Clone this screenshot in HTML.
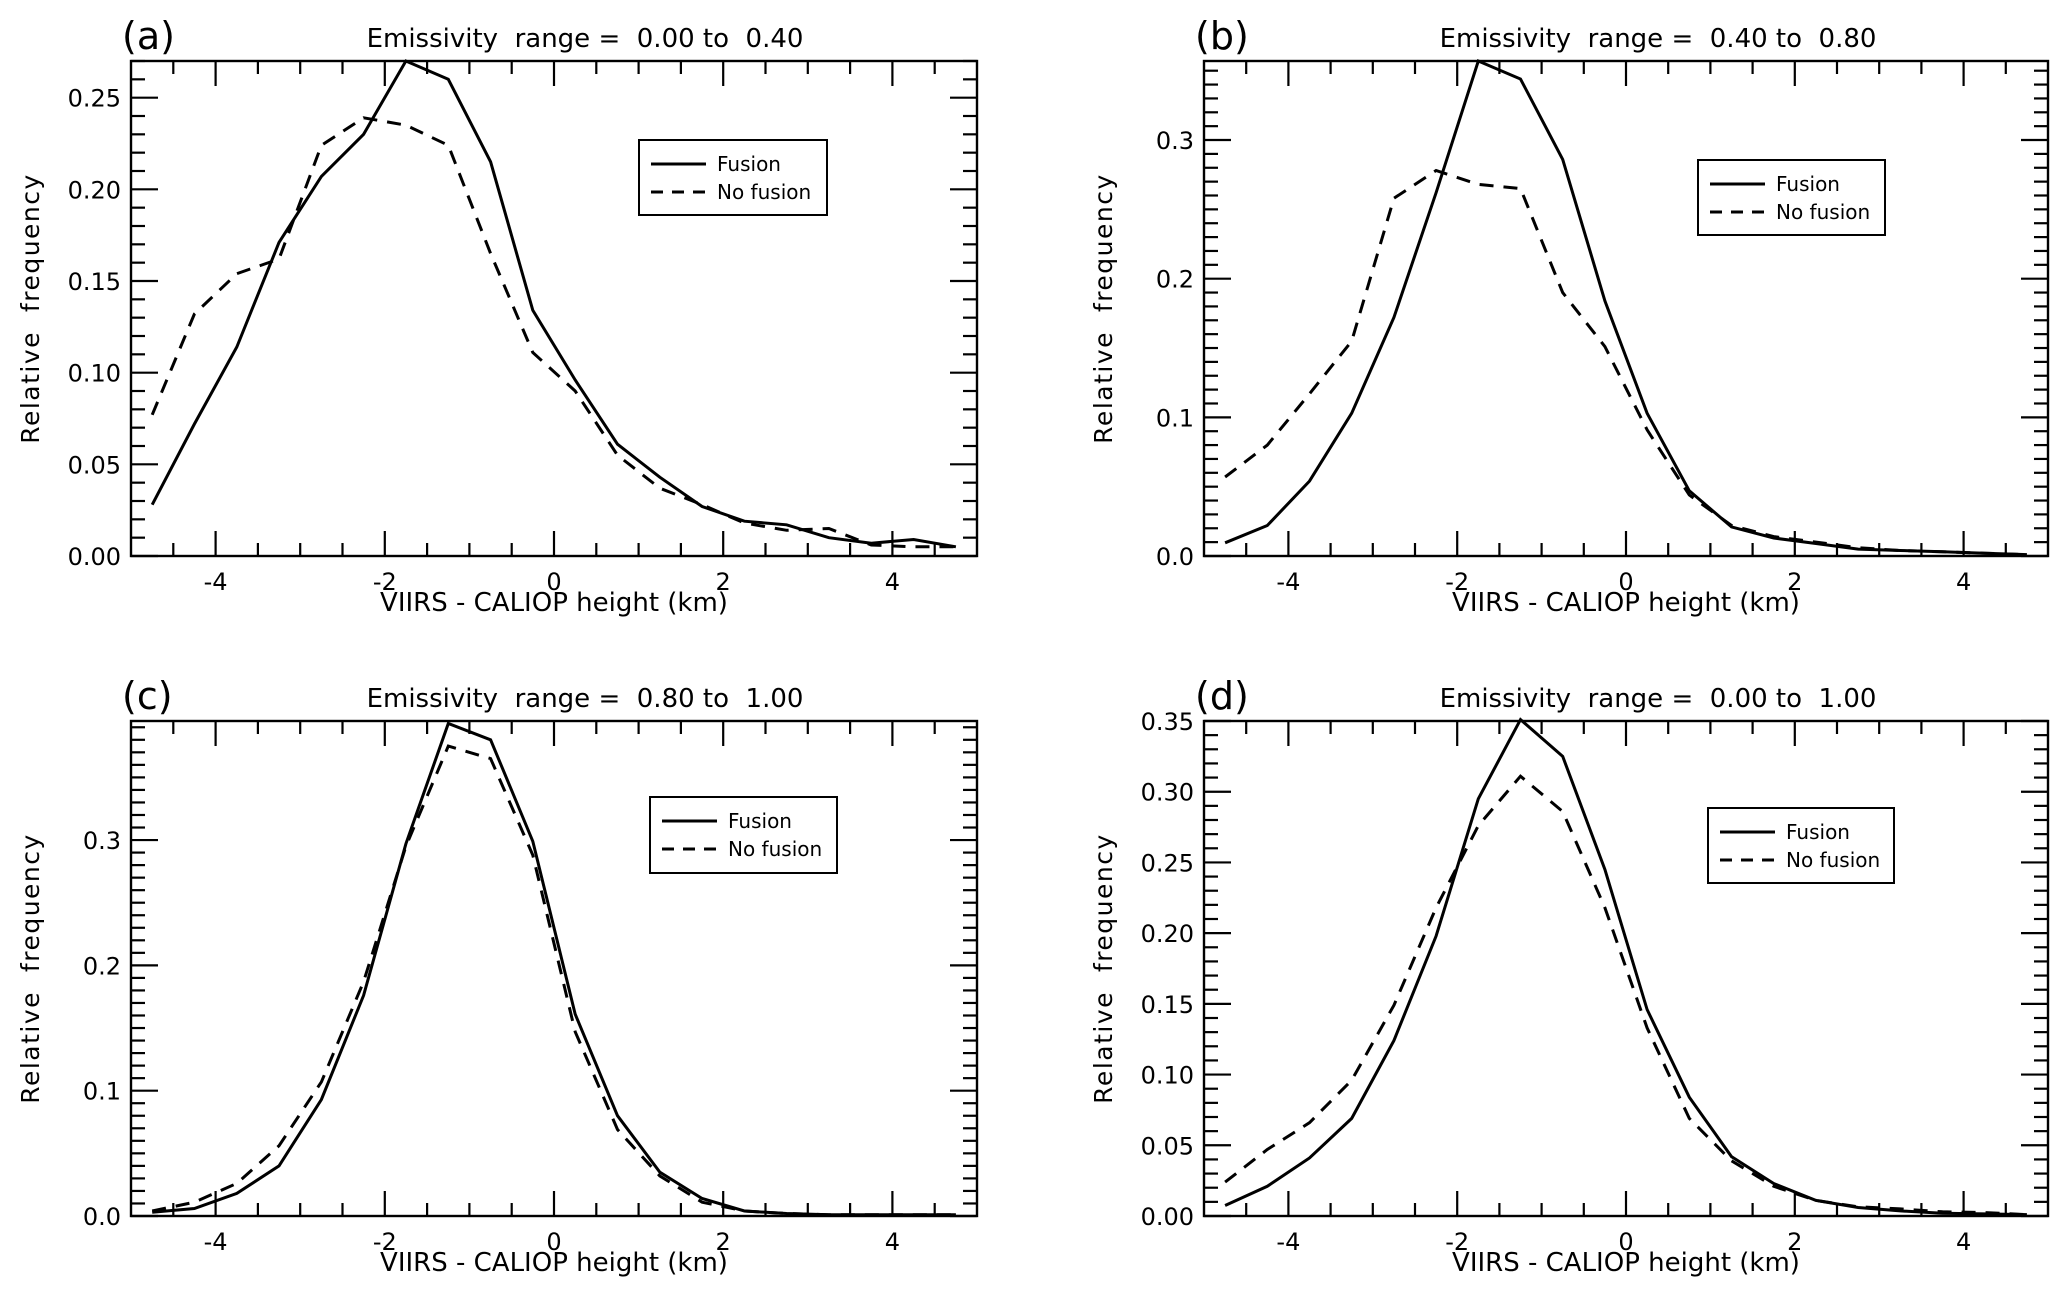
<!DOCTYPE html>
<html><head><meta charset="utf-8">
<style>
html,body{margin:0;padding:0;background:#fff;}
svg{display:block;}
text{font-family:"DejaVu Sans","Liberation Sans",sans-serif;fill:#000;white-space:pre;}
</style></head>
<body>
<svg id="fig" width="2067" height="1295" viewBox="0 0 2067 1295" xmlns="http://www.w3.org/2000/svg"></svg>
<script>
const xCenters = [-4.75,-4.25,-3.75,-3.25,-2.75,-2.25,-1.75,-1.25,-0.75,-0.25,0.25,0.75,1.25,1.75,2.25,2.75,3.25,3.75,4.25,4.75];
const xTicks = [-4,-2,0,2,4];
const seriesNames = ["Fusion","No fusion"];
const panelLabels = ["(a)","(b)","(c)","(d)"];
const panelTitles = ["Emissivity  range =  0.00 to  0.40","Emissivity  range =  0.40 to  0.80","Emissivity  range =  0.80 to  1.00","Emissivity  range =  0.00 to  1.00"];
const fusionA = [0.028,0.072,0.114,0.171,0.207,0.230,0.270,0.260,0.215,0.134,0.096,0.061,0.043,0.027,0.019,0.017,0.010,0.007,0.009,0.005];
const noFusionA = [0.077,0.132,0.154,0.162,0.224,0.239,0.235,0.224,0.165,0.111,0.090,0.055,0.037,0.028,0.018,0.014,0.015,0.006,0.005,0.005];
const fusionB = [0.0095,0.022,0.054,0.103,0.172,0.262,0.357,0.344,0.286,0.184,0.103,0.047,0.021,0.013,0.009,0.005,0.004,0.003,0.002,0.001];
const noFusionB = [0.057,0.080,0.117,0.155,0.258,0.278,0.268,0.265,0.190,0.151,0.091,0.044,0.022,0.014,0.010,0.006,0.004,0.003,0.002,0.001];
const fusionC = [0.003,0.006,0.018,0.040,0.093,0.176,0.297,0.393,0.380,0.299,0.161,0.080,0.035,0.014,0.004,0.002,0.001,0.001,0.001,0.001];
const noFusionC = [0.004,0.011,0.026,0.056,0.107,0.187,0.295,0.375,0.365,0.288,0.147,0.069,0.032,0.011,0.004,0.002,0.001,0.001,0.001,0.001];
const fusionD = [0.0074,0.021,0.041,0.069,0.124,0.198,0.295,0.351,0.325,0.245,0.146,0.084,0.042,0.023,0.011,0.006,0.0036,0.002,0.0015,0.001];
const noFusionD = [0.024,0.047,0.066,0.096,0.149,0.218,0.276,0.311,0.286,0.218,0.133,0.069,0.039,0.021,0.011,0.0065,0.005,0.003,0.0024,0.001];
const yTicksA = [0,0.05,0.10,0.15,0.20,0.25];
const yTicksB = [0,0.1,0.2,0.3];
const yTicksC = [0,0.1,0.2,0.3];
const yTicksD = [0,0.05,0.10,0.15,0.20,0.25,0.30,0.35];
const yMax = [0.27,0.357,0.395,0.35];

const NS="http://www.w3.org/2000/svg";
const svg=document.getElementById('fig');
function mk(tag,attrs,parent){const e=document.createElementNS(NS,tag);for(const k in attrs)e.setAttribute(k,attrs[k]);(parent||svg).appendChild(e);return e;}

const panels=[
 {L:131,R:977,T:61,B:556,ticks:yTicksA,dec:2,minor:0.01,f:fusionA,n:noFusionA,leg:[639,140,188,75]},
 {L:1204,R:2048,T:61,B:556,ticks:yTicksB,dec:1,minor:0.01,f:fusionB,n:noFusionB,leg:[1698,160,187,75]},
 {L:131,R:977,T:721,B:1216,ticks:yTicksC,dec:1,minor:0.01,f:fusionC,n:noFusionC,leg:[650,797,187,76]},
 {L:1204,R:2048,T:721,B:1216,ticks:yTicksD,dec:2,minor:0.01,f:fusionD,n:noFusionD,leg:[1708,808,186,75]}
];

panels.forEach((p,i)=>{
  const g=mk('g',{});
  
  
  const xs=v=>p.L+(v+5)/10*(p.R-p.L);
  const ys=v=>p.B-v/yMax[i]*(p.B-p.T);
  const fr=mk('rect',{x:p.L,y:p.T,width:p.R-p.L,height:p.B-p.T,fill:'none',stroke:'#000','stroke-width':2.4},g);
  
  
  for(let k=-9;k<=9;k++){
    const v=k*0.5, x=xs(v), major=(k%4===0);
    const len=major?25:13;
    mk('line',{x1:x,y1:p.B,x2:x,y2:p.B-len,stroke:'#000','stroke-width':2.2},g);
    mk('line',{x1:x,y1:p.T,x2:x,y2:p.T+len,stroke:'#000','stroke-width':2.2},g);
  }
  xTicks.forEach(v=>{
    const t=mk('text',{x:xs(v),y:p.B+34,'font-size':24,'text-anchor':'middle'},g);
    t.textContent=String(v);
    
    
  });
  const nMinor=Math.floor(yMax[i]/p.minor+1e-6);
  const majStep=p.ticks[1]-p.ticks[0];
  for(let k=0;k<=nMinor;k++){
    const v=k*p.minor, y=ys(v);
    const major=Math.abs(v/majStep-Math.round(v/majStep))<1e-6;
    const len=major?27:14;
    mk('line',{x1:p.L,y1:y,x2:p.L+len,y2:y,stroke:'#000','stroke-width':2.2},g);
    mk('line',{x1:p.R,y1:y,x2:p.R-len,y2:y,stroke:'#000','stroke-width':2.2},g);
  }
  p.ticks.forEach(v=>{
    const t=mk('text',{x:p.L-10,y:ys(v)+9,'font-size':24,'text-anchor':'end'},g);
    t.textContent=v.toFixed(p.dec);
    
    
  });
  const pts=arr=>arr.map((v,j)=>xs(xCenters[j]).toFixed(1)+','+ys(v).toFixed(1)).join(' ');
  const l1=mk('polyline',{points:pts(p.f),fill:'none',stroke:'#000','stroke-width':3,'stroke-linejoin':'miter'},g);
  
  
  const l2=mk('polyline',{points:pts(p.n),fill:'none',stroke:'#000','stroke-width':3,'stroke-dasharray':'14,10'},g);
  
  
  const xl=mk('text',{x:(p.L+p.R)/2,y:p.B+55,'font-size':26,'text-anchor':'middle'},g);
  xl.textContent='VIIRS - CALIOP height (km)';
  
  
  const ylx=p.L-92, yly=(p.T+p.B)/2;
  const yl=mk('text',{x:ylx,y:yly,'font-size':25,'text-anchor':'middle','letter-spacing':1.5,transform:'rotate(-90 '+ylx+' '+yly+')'},g);
  yl.textContent='Relative  frequency';
  
  
  const pl=mk('text',{x:p.L-9,y:p.T-12,'font-size':38},g);
  pl.textContent=panelLabels[i];
  
  
  const tt=mk('text',{x:p.L+454,y:p.T-14,'font-size':26,'text-anchor':'middle'},g);
  tt.textContent=panelTitles[i];
  
  
  const [lx,ly,lw,lh]=p.leg;
  const lg=mk('g',{},g);
  
  
  mk('rect',{x:lx,y:ly,width:lw,height:lh,fill:'#fff',stroke:'#000','stroke-width':2},lg);
  mk('line',{x1:lx+12,y1:ly+24,x2:lx+67,y2:ly+24,stroke:'#000','stroke-width':3}, lg);
  mk('line',{x1:lx+12,y1:ly+52,x2:lx+67,y2:ly+52,stroke:'#000','stroke-width':3,'stroke-dasharray':'12,9'},lg);
  const e1=mk('text',{x:lx+78,y:ly+31,'font-size':20},lg);
  e1.textContent=seriesNames[0];
  
  
  const e2=mk('text',{x:lx+78,y:ly+59,'font-size':20},lg);
  e2.textContent=seriesNames[1];
  
  
});
</script>
</body></html>
